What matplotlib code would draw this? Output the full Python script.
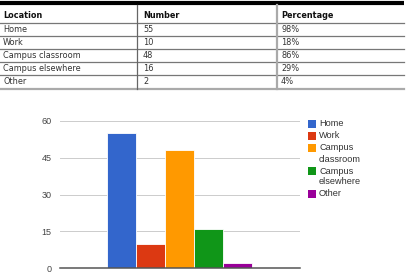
import numpy as np
import matplotlib
matplotlib.use("Agg")
import matplotlib.pyplot as plt
from matplotlib.patches import Rectangle

# table data
col_names = ["Location", "Number", "Percentage"]
locations = ["Home", "Work", "Campus classroom", "Campus elsewhere", "Other"]
numbers = [55, 10, 48, 16, 2]
percents = ["98%", "18%", "86%", "29%", "4%"]

# chart data
legend_labels = ["Home", "Work", "Campus\nclassroom", "Campus\nelsewhere", "Other"]
colors = ["#3366cc", "#dc3912", "#ff9900", "#109618", "#990099"]
y_ticks = [0, 15, 30, 45, 60]

W, H = 408, 278
fig = plt.figure(figsize=(W / 100, H / 100), dpi=100)
fig.patch.set_facecolor("white")

# ---- table, drawn in pixel units ----
tab_h = 92
tax = fig.add_axes([0, 1 - tab_h / H, 1, tab_h / H])
tax.set_xlim(0, W)
tax.set_ylim(tab_h, 0)
tax.axis("off")

col_x = [3, 143, 281]
tax.plot([0, 404], [3, 3], color="black", lw=3.0, solid_capstyle="butt")
header_y = 16
row_lines = [23, 36, 49, 62, 75]
for y in row_lines:
    tax.plot([0, 404], [y, y], color="#777777", lw=0.9)
tax.plot([0, 404], [89, 89], color="#aaaaaa", lw=1.6)
tax.plot([137, 137], [5, 89], color="#666666", lw=0.9)
tax.plot([277, 277], [5, 89], color="#aaaaaa", lw=1.6)

tfont = dict(family="DejaVu Sans", fontsize=5.9, va="center", ha="left")
for x, name in zip(col_x, col_names):
    tax.text(x, header_y, name, fontweight="bold", color="#111111", **tfont)
for i in range(len(locations)):
    yc = row_lines[i] + 6.8
    tax.text(col_x[0], yc, locations[i], color="#333333", **tfont)
    tax.text(col_x[1], yc, str(numbers[i]), color="#333333", **tfont)
    tax.text(col_x[2], yc, percents[i], color="#333333", **tfont)

# ---- bar chart ----
ax = fig.add_axes([60 / W, 10 / H, 240 / W, 147 / H])
x = np.arange(len(numbers))
ax.bar(x, numbers, width=1.0, color=colors, edgecolor="white", linewidth=0.6, zorder=3)
ax.set_xlim(-2.12, 6.155)
ax.set_ylim(0, 60)
ax.set_yticks(y_ticks)
ax.set_yticklabels([str(t) for t in y_ticks], fontsize=6.5, color="#444444",
                   family="Liberation Sans")
ax.set_xticks([])
ax.tick_params(axis="y", length=0, pad=6)
for s in ["top", "right", "left"]:
    ax.spines[s].set_visible(False)
ax.spines["bottom"].set_color("#555555")
ax.spines["bottom"].set_linewidth(1.1)
ax.spines["bottom"].set_zorder(4)
ax.yaxis.grid(True, color="#cccccc", lw=0.7, zorder=0)

# ---- legend, square lined up with the first text line ----
lax = fig.add_axes([0, 0, 1, 1], facecolor="none")
lax.set_xlim(0, W)
lax.set_ylim(H, 0)
lax.axis("off")
y = 124
for lab, c in zip(legend_labels, colors):
    lax.add_patch(Rectangle((308, y - 3.8), 7.5, 7.5, facecolor=c, edgecolor="none"))
    for k, line in enumerate(lab.split("\n")):
        lax.text(319, y + 11 * k, line, fontsize=6.6, family="Liberation Sans",
                 color="#333333", va="center", ha="left")
    y += 12 + 11 * lab.count("\n")

fig.savefig("out.png", dpi=100)
